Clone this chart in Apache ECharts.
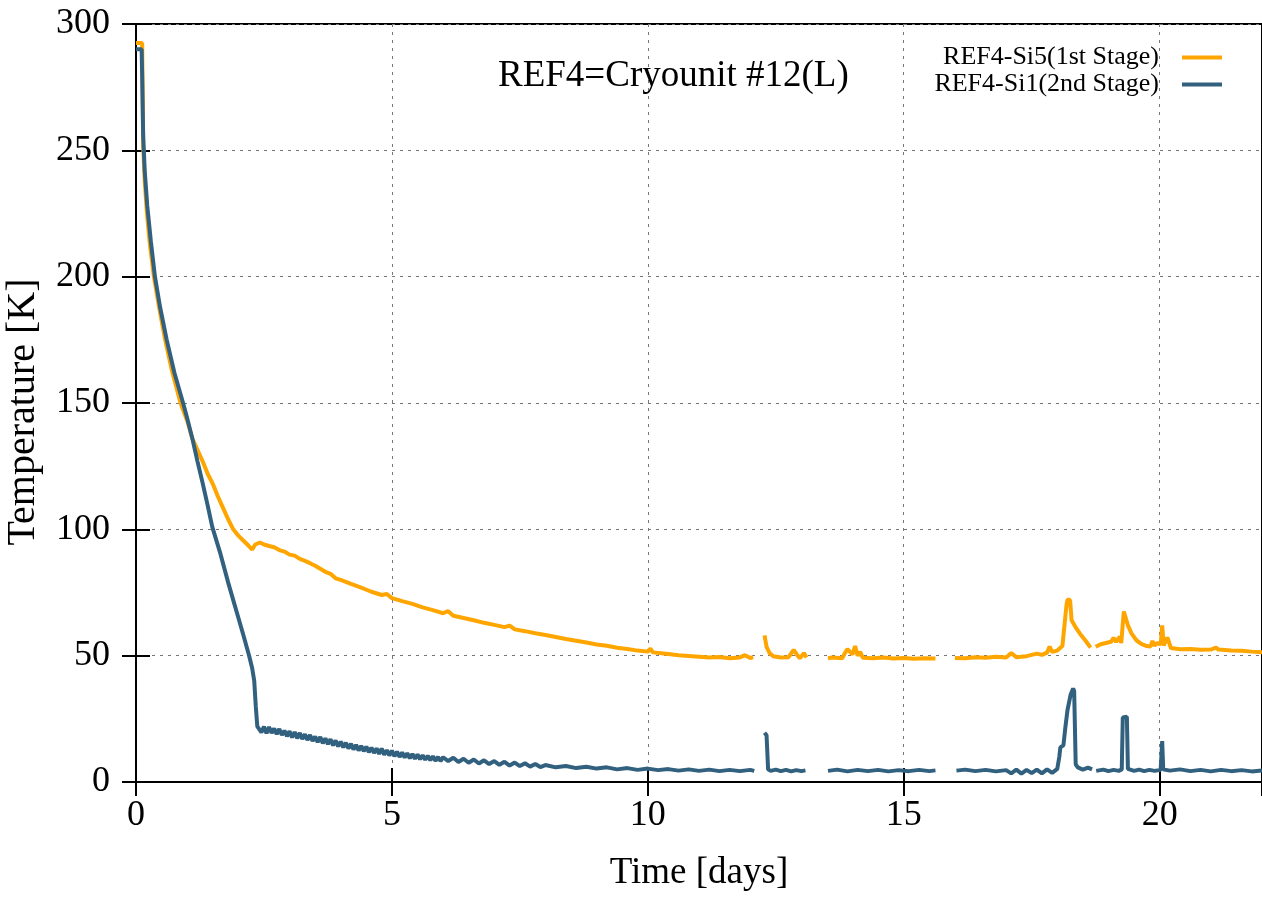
<!DOCTYPE html>
<html>
<head>
<meta charset="utf-8">
<script src="https://cdn.jsdelivr.net/npm/echarts@6/dist/echarts.min.js"></script>
<style>
  html, body { margin: 0; padding: 0; background: #fff; }
  #chart { width: 1262px; height: 898px; }
</style>
</head>
<body>
<div id="chart"></div>
<script>
// REF4-Si5 (1st stage), null = no data
var stage1Time = [0, 0.12, 0.13, 0.14, 0.17, 0.21, 0.27, 0.35, 0.45, 0.57, 0.7, 0.87, 1.0, 1.1, 1.2, 1.3, 1.4, 1.5, 1.6, 1.7, 1.8, 1.9,
  2.0, 2.1, 2.2, 2.27, 2.33, 2.42, 2.5, 2.6, 2.7, 2.8, 2.9, 3.0, 3.1, 3.2, 3.3, 3.4, 3.5, 3.6, 3.7, 3.8, 3.9, 4.0, 4.2, 4.4, 4.6, 4.8, 4.9,
  5.0, 5.2, 5.4, 5.6, 5.8, 6.0, 6.1, 6.2, 6.4, 6.6, 6.8, 7.0, 7.2, 7.3, 7.4, 7.6, 7.8, 8.0, 8.2, 8.4, 8.6, 8.8, 9.0, 9.2, 9.4, 9.6, 9.8,
  10.0, 10.05, 10.1, 10.4, 10.6, 10.8, 11.0, 11.2, 11.4, 11.6, 11.8, 11.9, 12.0, 12.06, 12.15,
  12.28, 12.32, 12.38, 12.45, 12.6, 12.75, 12.85, 12.92, 12.97, 13.05, 13.1, 13.3,
  13.52, 13.6, 13.8, 13.85, 13.9, 14.0, 14.05, 14.1, 14.15, 14.2, 14.4, 14.6, 14.8, 15.0, 15.2, 15.4, 15.62, 15.8,
  16.0, 16.2, 16.4, 16.6, 16.8, 17.0, 17.1, 17.2, 17.4, 17.5, 17.6, 17.7, 17.8, 17.85, 17.9, 18.0, 18.1, 18.13, 18.18, 18.2, 18.25,
  18.28, 18.35, 18.45, 18.55, 18.65, 18.71,
  18.75, 18.85, 18.95, 19.05, 19.1, 19.15, 19.22, 19.25, 19.3, 19.33, 19.38, 19.45, 19.55, 19.65, 19.75, 19.82, 19.86, 19.9, 19.95,
  20.02, 20.05, 20.08, 20.15, 20.18, 20.22, 20.4, 20.6, 20.8, 21.0, 21.1, 21.15, 21.4, 21.6, 21.8, 22.0];
var stage1Temp = [292.5, 292.5, 275, 252, 238, 226, 213, 200, 188, 175, 163, 150, 143, 136, 131.5, 127, 122, 118, 113, 108.5, 104, 100,
  97.5, 95.5, 93.5, 92, 94, 94.8, 94.0, 93.4, 92.9, 91.8, 91.2, 90.0, 89.6, 88.3, 87.5, 86.6, 85.6, 84.4, 83.2, 82.4, 80.6, 80.0, 78.4, 76.9, 75.3, 74.0, 74.4,
  72.8, 71.6, 70.5, 69.1, 68.0, 66.8, 67.6, 65.8, 64.9, 64.0, 63.0, 62.2, 61.3, 61.9, 60.4, 59.7, 58.9, 58.2, 57.4, 56.6, 55.9, 55.2, 54.4, 53.9, 53.1, 52.6, 52.0,
  51.6, 52.8, 51.3, 50.7, 50.2, 49.9, 49.6, 49.3, 49.5, 49.0, 49.3, 50.2, 49.1, 49.4, null,
  58.0, 53.5, 51.0, 49.8, 49.3, 49.4, 52.3, 50.2, 49.0, 51.0, 49.3, null,
  49.0, 49.3, 49.0, 51.0, 52.6, 50.5, 53.8, 50.0, 51.5, 49.2, 49.0, 49.3, 48.9, 49.1, 48.8, 49.0, 48.9, null,
  49.1, 49.0, 49.4, 49.2, 49.6, 49.3, 51.0, 49.4, 49.8, 50.3, 50.8, 50.3, 51.2, 53.6, 51.5, 52.0, 53.8, 54.5, 70, 72.2, 72.0,
  64.0, 61.5, 58.5, 56.0, 53.2, null,
  53.5, 54.5, 55.0, 55.5, 57.0, 55.5, 57.5, 55.0, 67.5, 68.0, 62.0, 58.8, 56.0, 54.6, 53.8, 53.6, 55.8, 54.0, 55.0,
  54.5, 62.0, 54.0, 57.2, 55.5, 53.0, 52.5, 52.6, 52.3, 52.4, 53.2, 52.4, 52.0, 51.9, 51.6, 51.4];

// REF4-Si1 (2nd stage)
var stage2Time = [0, 0.11, 0.12, 0.14, 0.17, 0.22, 0.29, 0.37, 0.47, 0.6, 0.75, 0.92, 1.0, 1.1, 1.2, 1.3, 1.4, 1.49, 1.64, 1.8, 1.9,
  2.0, 2.1, 2.21, 2.27, 2.31, 2.34, 2.37,
  2.40, 2.45, 2.50, 2.55, 2.60, 2.65, 2.70, 2.75, 2.80, 2.85, 2.90, 2.95, 3.00, 3.05, 3.10, 3.15, 3.20, 3.25, 3.30, 3.35,
  3.40, 3.45, 3.50, 3.55, 3.60, 3.65, 3.70, 3.75, 3.80, 3.85, 3.90, 3.95, 4.00, 4.05, 4.10, 4.15, 4.20, 4.25, 4.30, 4.35,
  4.40, 4.45, 4.50, 4.55, 4.60, 4.65, 4.70, 4.75, 4.80, 4.85, 4.90, 4.95, 5.00, 5.05, 5.10, 5.15, 5.20, 5.25, 5.30, 5.35,
  5.40, 5.45, 5.50, 5.55, 5.60, 5.65, 5.70, 5.75, 5.80, 5.85, 5.90, 5.95, 6.00,
  6.1, 6.2, 6.3, 6.4, 6.5, 6.6, 6.7, 6.8, 6.9, 7.0, 7.1, 7.2, 7.3, 7.4, 7.5, 7.6, 7.7, 7.8, 7.9,
  8.0, 8.2, 8.4, 8.6, 8.8, 9.0, 9.2, 9.4, 9.6, 9.8, 10.0, 10.2, 10.4, 10.6, 10.8, 11.0, 11.2, 11.4, 11.6, 11.8, 12.0, 12.08, 12.15,
  12.28, 12.32, 12.35, 12.4, 12.5, 12.6, 12.7, 12.8, 12.9, 13.0, 13.08, 13.3,
  13.52, 13.7, 13.9, 14.1, 14.3, 14.5, 14.7, 14.9, 15.1, 15.3, 15.5, 15.62, 15.8,
  16.03, 16.2, 16.4, 16.6, 16.8, 17.0, 17.1, 17.2, 17.3, 17.4, 17.5, 17.6, 17.7, 17.8, 17.9, 18.0, 18.04, 18.06, 18.12, 18.16,
  18.2, 18.26, 18.31, 18.33, 18.36, 18.4, 18.5, 18.6, 18.68, 18.72,
  18.76, 18.9, 19.0, 19.1, 19.2, 19.26, 19.28, 19.36, 19.38, 19.5, 19.6, 19.7, 19.8, 19.9, 20.02, 20.05, 20.07,
  20.2, 20.4, 20.6, 20.8, 21.0, 21.2, 21.4, 21.6, 21.8, 22.0];
var stage2Temp = [290, 290, 280, 256, 242, 228, 214, 200, 188, 175, 162, 150, 144, 136, 127, 118.5, 109.5, 101, 91, 79, 72,
  65, 58, 50, 45, 40, 30, 22,
  22.0, 19.6, 21.9, 19.3, 21.8, 19.4, 21.2, 18.9, 21.0, 18.6, 20.3, 18.1, 20.1, 17.6, 19.8, 17.3, 19.4, 17.0, 18.9, 16.6,
  18.6, 16.2, 18.0, 15.8, 17.8, 15.3, 17.3, 15.0, 16.9, 14.5, 16.4, 14.1, 16.0, 13.7, 15.5, 13.3, 15.1, 12.9, 14.7, 12.5,
  14.3, 12.2, 14.0, 11.8, 13.6, 11.5, 13.3, 11.1, 13.2, 10.8, 12.6, 10.5, 12.4, 10.2, 12.0, 9.9, 11.7, 9.7, 11.4, 9.4,
  11.1, 9.2, 10.9, 9.0, 10.6, 8.8, 10.4, 8.6, 10.2, 8.4, 9.9, 8.3, 9.8,
  8.3, 9.6, 7.9, 9.2, 7.6, 8.9, 7.3, 8.6, 7.1, 8.3, 6.8, 8.0, 6.5, 7.7, 6.3, 7.4, 6.1, 7.1, 5.9,
  6.7, 5.8, 6.3, 5.5, 6.0, 5.3, 5.8, 5.0, 5.5, 4.8, 5.3, 4.7, 5.1, 4.5, 5.0, 4.4, 4.9, 4.3, 4.8, 4.3, 4.8, 4.4, null,
  19.5, 18.5, 5.0, 4.4, 4.9, 4.3, 4.8, 4.2, 4.7, 4.3, 4.6, null,
  4.4, 4.9, 4.2, 4.8, 4.3, 4.8, 4.2, 4.7, 4.3, 4.8, 4.3, 4.6, null,
  4.5, 4.9, 4.3, 4.8, 4.2, 4.7, 3.4, 4.9, 3.3, 4.8, 3.5, 4.9, 3.4, 5.0, 3.6, 5.2, 10, 13.7, 14.5, 22,
  28.5, 34.5, 37, 36, 7, 5.8, 4.9, 5.7, 5.0, null,
  4.4, 4.9, 4.3, 4.8, 4.4, 5.0, 25.5, 25.8, 5.2, 4.4, 4.9, 4.3, 4.8, 4.4, 4.8, 16.2, 5.0,
  4.5, 5.0, 4.3, 4.8, 4.2, 4.8, 4.3, 4.7, 4.2, 4.6];

var yTicks = [0, 50, 100, 150, 200, 250, 300];
var xTicks = [0, 5, 10, 15, 20];

function pairs(t, v) {
  return t.map(function (x, i) { return [x, v[i] == null ? '-' : v[i]]; });
}

var serif = 'Liberation Serif, Times New Roman, serif';
var gridLine = { show: true, lineStyle: { color: '#777', type: [3, 5], width: 1 } };

var myChart = echarts.init(document.getElementById('chart'));
var option = {
  animation: false,
  backgroundColor: '#fff',
  title: {
    text: 'REF4=Cryounit #12(L)',
    left: 493, top: 53,
    textStyle: { fontFamily: serif, fontSize: 37, fontWeight: 'normal', color: '#000' }
  },
  legend: {
    orient: 'vertical', right: 35, top: 39, align: 'right',
    icon: 'rect', itemWidth: 40, itemHeight: 4, itemGap: 0,
    textStyle: { fontFamily: serif, fontSize: 26, lineHeight: 27, color: '#000', padding: [0, 18, 0, 0] },
    data: ['REF4-Si5(1st Stage)', 'REF4-Si1(2nd Stage)']
  },
  grid: { left: 136, right: 0, top: 24, bottom: 116, outerBoundsMode: 'none',
    show: true, borderColor: '#000', borderWidth: 2 },
  xAxis: [{
    type: 'value', min: 0, max: 22, interval: 5,
    name: 'Time [days]', nameLocation: 'middle', nameGap: 73,
    nameTextStyle: { fontFamily: serif, fontSize: 37, color: '#000' },
    axisLine: { lineStyle: { color: '#000', width: 2 } },
    axisTick: { inside: true, length: 14, lineStyle: { color: '#000', width: 2 } },
    axisLabel: { margin: 16, fontFamily: serif, fontSize: 36, color: '#000',
      formatter: function (v) { return xTicks.indexOf(v) >= 0 ? v : ''; } },
    splitLine: gridLine
  }, {
    type: 'value', position: 'top', min: 0, max: 22, interval: 5,
    axisLine: { lineStyle: { color: '#000', width: 2 } },
    axisTick: { inside: true, length: 14, lineStyle: { color: '#000', width: 2 } },
    axisLabel: { show: false }, splitLine: { show: false }
  }],
  yAxis: [{
    type: 'value', min: 0, max: 300, interval: 50,
    name: 'Temperature [K]', nameLocation: 'middle', nameGap: 93,
    nameTextStyle: { fontFamily: serif, fontSize: 40, color: '#000', padding: [0, 18, 0, 0] },
    axisLine: { show: true, lineStyle: { color: '#000', width: 2 } },
    axisTick: { show: true, inside: true, length: 14, lineStyle: { color: '#000', width: 2 } },
    axisLabel: { margin: 26, fontFamily: serif, fontSize: 36, color: '#000',
      formatter: function (v) { return yTicks.indexOf(v) >= 0 ? v : ''; } },
    splitLine: gridLine
  }, {
    type: 'value', position: 'right', min: 0, max: 300, interval: 50,
    axisLine: { show: false },
    axisTick: { show: true, inside: true, length: 14, lineStyle: { color: '#000', width: 2 } },
    axisLabel: { show: false }, splitLine: { show: false }
  }],
  series: [
    {
      name: 'REF4-Si5(1st Stage)', type: 'line', showSymbol: false, connectNulls: false,
      color: '#ffa500', lineStyle: { width: 4, color: '#ffa500' },
      data: pairs(stage1Time, stage1Temp)
    },
    {
      name: 'REF4-Si1(2nd Stage)', type: 'line', showSymbol: false, connectNulls: false,
      color: '#32607f', lineStyle: { width: 4, color: '#32607f' },
      data: pairs(stage2Time, stage2Temp)
    }
  ]
};
myChart.setOption(option);
</script>
</body>
</html>
